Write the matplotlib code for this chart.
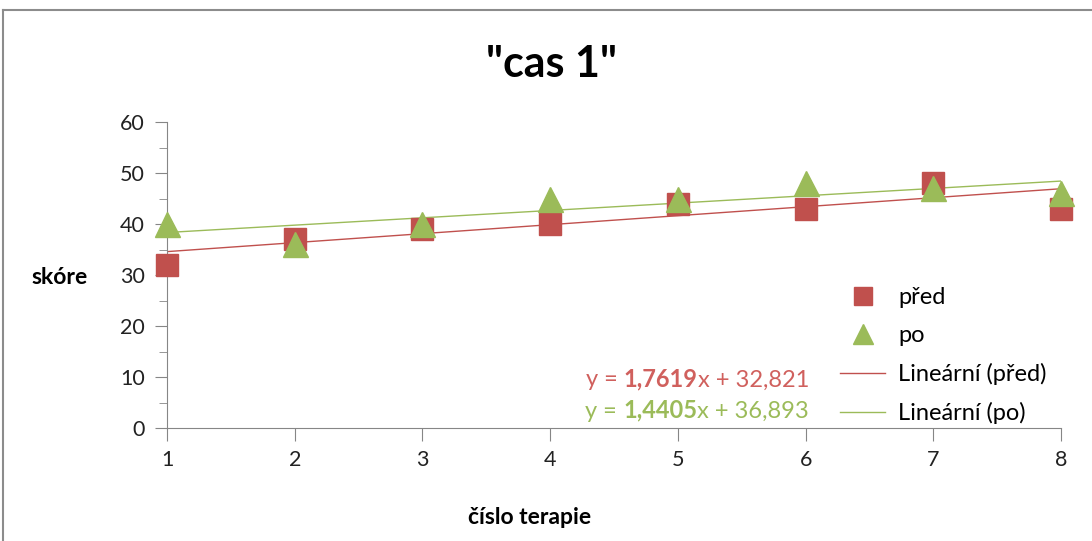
import matplotlib.pyplot as plt
import numpy as np
from matplotlib.lines import Line2D
from matplotlib.offsetbox import TextArea, HPacker, AnchoredOffsetbox

plt.rcParams['font.family'] = ['Lato', 'DejaVu Sans']

terapie = [1, 2, 3, 4, 5, 6, 7, 8]
pred = [32, 37, 39, 40, 44, 43, 48, 43]
po = [40, 36, 40, 45, 45, 48, 47, 46]

red = '#C0504D'
green = '#9BBB59'

fig = plt.figure(figsize=(10.92, 5.41), dpi=100)
ax = fig.add_axes([167 / 1092, 1 - 428 / 541, (1061 - 167) / 1092, (428 - 122) / 541])

ax.plot(terapie, pred, 's', color=red, ms=16, clip_on=False, zorder=3)
ax.plot(terapie, po, '^', color=green, ms=18, clip_on=False, zorder=4)

# linear trend lines
x = np.array(terapie)
k1, q1 = np.polyfit(x, pred, 1)
k2, q2 = np.polyfit(x, po, 1)
ax.plot(x, k1 * x + q1, color=red, lw=1, zorder=2)
ax.plot(x, k2 * x + q2, color=green, lw=1, zorder=2)

ax.set_xlim(1, 8)
ax.set_ylim(0, 60)
ax.set_xticks(terapie)
ax.set_yticks(range(0, 61, 10))
ax.set_yticks(range(5, 60, 10), minor=True)
for s in ['top', 'right']:
    ax.spines[s].set_visible(False)
for s in ['left', 'bottom']:
    ax.spines[s].set_color('#868686')
ax.tick_params(axis='both', which='major', direction='out', length=9,
               color='#868686', labelsize=15.5, labelcolor='#222222', pad=7)
ax.tick_params(axis='y', which='minor', direction='out', length=6, color='#868686')

fig.text(551 / 1092, 1 - 64 / 541, '"cas 1"', fontsize=31, fontweight='bold',
         ha='center', va='center')
fig.text(60 / 1092, 1 - 278 / 541, 'skóre', fontsize=16.5, fontweight='bold',
         ha='center', va='center')
fig.text(530 / 1092, 1 - 518 / 541, 'číslo terapie', fontsize=16.5, fontweight='bold',
         ha='center', va='center')

handles = [
    Line2D([], [], ls='none', marker='s', color=red, ms=13),
    Line2D([], [], ls='none', marker='^', color=green, ms=14),
    Line2D([], [], color=red, lw=1),
    Line2D([], [], color=green, lw=1),
]
labels = ['před', 'po', 'Lineární (před)', 'Lineární (po)']
fig.legend(handles, labels, loc='upper left', bbox_to_anchor=(819 / 1092, 1 - 266 / 541),
           frameon=False, fontsize=17, handlelength=1.9, labelspacing=0.72,
           handletextpad=0.55)


def equation(k, q, color, y):
    parts = [
        TextArea('y = ', textprops=dict(color=color, fontsize=17)),
        TextArea(f'{k:.4f}'.replace('.', ','),
                 textprops=dict(color=color, fontsize=17, fontweight='bold')),
        TextArea(f'x + {q:.3f}'.replace('.', ','), textprops=dict(color=color, fontsize=17)),
    ]
    box = HPacker(children=parts, pad=0, sep=0, align='baseline')
    anchored = AnchoredOffsetbox(loc='center right', child=box, frameon=False, pad=0,
                                 bbox_to_anchor=(809 / 1092, 1 - y / 541),
                                 bbox_transform=fig.transFigure, borderpad=0)
    fig.add_artist(anchored)


equation(k1, q1, '#D0605D', 379)
equation(k2, q2, '#9BBB59', 410)

# chart border
fig.add_artist(Line2D([3 / 1092, 3 / 1092], [0, 1 - 9.5 / 541], color='#8C8C8C', lw=1.5))
fig.add_artist(Line2D([3 / 1092, 1], [1 - 9.5 / 541, 1 - 9.5 / 541], color='#8C8C8C', lw=1.5))

fig.savefig('out.png', dpi=100)
